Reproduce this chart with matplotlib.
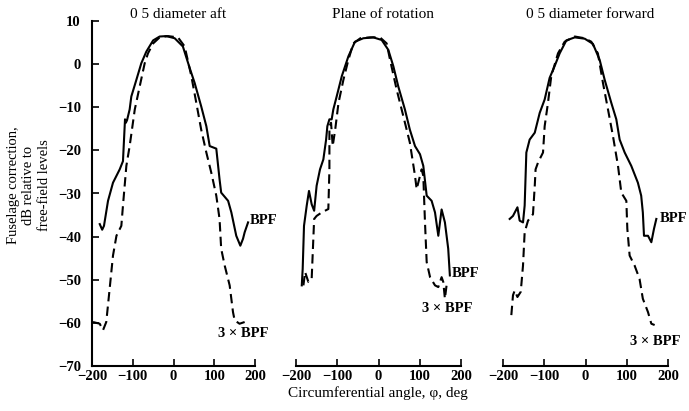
import matplotlib
matplotlib.use('Agg')
import matplotlib.pyplot as plt

plt.rcParams['font.family'] = ['Liberation Serif', 'DejaVu Serif']

# ---------------- data ----------------
titles = ["0 5 diameter aft", "Plane of rotation", "0 5 diameter forward"]
x_ticks = [-200, -100, 0, 100, 200]
y_ticks = [10, 0, -10, -20, -30, -40, -50, -60, -70]

aft_bpf_x = [-181, -175, -170.6, -160.7, -148.5, -132, -124, -119, -117, -114, -107.6, -103.5, -91, -79, -66.7,
             -50, -34, -17.6, 2.9, 23, 39.7, 52, 68, 80.6, 88.8, 105, 113, 117, 134, 142, 154, 164, 170.6, 174.6, 183]
aft_bpf_y = [-37.1, -38.4, -37.5, -31.7, -27.5, -24.4, -22.5, -12.8, -13.6, -13.0, -10.5, -7.5, -3.6, 0.2, 2.9,
             5.5, 6.4, 6.5, 6.0, 4.1, -0.9, -4.4, -9.8, -14.4, -19, -19.6, -26.7, -29.8, -31.7, -34.4, -39.8, -42.1,
             -40.5, -39, -36.7]

aft_3bpf_x = [-197.5, -181, -173, -165, -156.6, -148.5, -140, -128, -124, -115.7, -107.6, -95, -83, -70.7, -62.6,
              -50, -34, -13.5, 11, 27.4, 43.8, 56, 68, 80.6, 92.8, 105, 113, 117, 125.6, 137.8, 146, 150, 162, 174.6]
aft_3bpf_y = [-59.8, -60.2, -61.7, -59.8, -52, -44.4, -39.8, -37.5, -32.8, -23.6, -19, -10.5, -5.2, 0.2, 2.5,
              4.8, 6.2, 6.5, 6.2, 4.1, -2.8, -9, -15.2, -20.5, -25.2, -30.5, -35.9, -42.8, -46.7, -51.3, -57.5,
              -59.4, -60.2, -59.8]

rot_bpf_x = [-186, -183.8, -180.6, -174, -168.5, -162, -156, -150, -141.8, -133.7, -127, -124, -119, -113.5,
             -109.5, -101.4, -89, -73, -57, -36.8, -12.5, 7.7, 23.8, 36, 48, 64, 76, 88.5, 100.6, 108.6, 116.8,
             128.8, 137, 145, 153, 161, 169, 173]
rot_bpf_y = [-51.3, -47.5, -37.5, -32.8, -29.4, -32.5, -34, -28.2, -24.4, -22.1, -17.5, -14.4, -12.8, -12.8,
             -10.5, -7.5, -2.8, 1.8, 5.2, 6.0, 6.2, 5.6, 3.3, -0.5, -5.2, -10.5, -15.2, -19, -20.9, -23.6, -30.5,
             -31.7, -34.4, -39.8, -33.7, -36.7, -42.8, -49]

rot_3bpf_x = [-182, -178, -170, -162, -156, -150, -137.8, -121.6, -119, -119, -115, -111, -105, -97, -85, -73,
              -61, -44, -20.6, 3.6, 19.8, 28, 44, 60, 76, 88.5, 92.5, 100.6, 104.6, 108.6, 112.7, 116.8, 125, 137,
              145, 153, 157, 161, 165]
rot_3bpf_y = [-51.3, -48.2, -50.5, -49.8, -35.9, -35.2, -34.4, -33.6, -24.4, -14.4, -13.6, -19, -15.2, -9, -3.6,
              1, 4.8, 6, 6.2, 6.2, 4.8, 1, -5.9, -12, -18.2, -25.9, -29, -25.9, -24.4, -25.9, -36.7, -45.9, -49.4,
              -51.3, -51.7, -49.4, -50.5, -54.4, -51.3]

fwd_bpf_x = [-183.8, -175.8, -165, -159.6, -151.5, -147.5, -143.4, -135.4, -123, -111, -99, -87, -75, -62.6,
             -46.5, -26, -2, 18, 34.3, 46.4, 62.6, 74.7, 82.8, 95, 111, 127, 135, 139, 141.8, 151.5, 159.6, 166,
             171.7]
fwd_bpf_y = [-35.9, -35.2, -33.2, -36.3, -36.7, -32.8, -20.5, -17.5, -15.9, -11.3, -8.2, -3.2, -0.5, 2.5,
             5.5, 6.2, 5.9, 4.7, 1, -3.6, -9, -12.8, -17.5, -20.5, -23.6, -27.5, -30.5, -34.4, -39.8, -39.8, -41.3,
             -38.2, -35.9]

fwd_3bpf_x = [-179.8, -175.8, -171.7, -165, -157, -151.5, -147.5, -139.4, -127.3, -123, -121, -115, -103, -99,
              -91, -83, -66.7, -50.5, -26, -2, 14, 30, 42.4, 54.5, 66.6, 78.8, 86.8, 99, 101.4, 107, 119, 131, 139,
              151.5, 159.6, 167.6]
fwd_3bpf_y = [-58.2, -53.6, -52.5, -54, -52.8, -46.7, -39, -36.3, -34.8, -28.2, -24.4, -22.8, -20.5, -14.4,
              -9, -2.8, 2.5, 5.2, 6.4, 6, 5.2, 2.5, -4.4, -10.5, -16.7, -23.6, -29.8, -31.7, -38.2, -44.4, -46.7,
              -49.8, -54.4, -57.5, -60.2, -60.5]

bpf_label = "BPF"
bpf3_label = "3 \u00d7 BPF"
bpf_label_pos = [(187, -36.3), (178, -48.6), (181, -35.9)]
bpf3_label_pos = [(109, -62.5), (105, -56.7), (107, -64.4)]

series = [
    (aft_bpf_x, aft_bpf_y, aft_3bpf_x, aft_3bpf_y),
    (rot_bpf_x, rot_bpf_y, rot_3bpf_x, rot_3bpf_y),
    (fwd_bpf_x, fwd_bpf_y, fwd_3bpf_x, fwd_3bpf_y),
]

# ---------------- layout ----------------
W, H = 689, 411
fig = plt.figure(figsize=(W / 100, H / 100), dpi=100)
fig.patch.set_facecolor('white')

panel_px = [(92, 255), (296, 461), (503, 668)]
ytop, ybot = 21, 366

for i, ((x0, x1), (bx, by, dx, dy)) in enumerate(zip(panel_px, series)):
    ax = fig.add_axes([x0 / W, 1 - ybot / H, (x1 - x0) / W, (ybot - ytop) / H])
    ax.set_xlim(-200, 200)
    ax.set_ylim(-70, 10)
    ax.plot(bx, by, color='black', lw=1.5, clip_on=False)
    ax.plot(dx, dy, color='black', lw=1.5, linestyle=(0, (4.5, 2.5)), clip_on=False)
    ax.set_xticks(x_ticks)
    ax.tick_params(axis='x', direction='in', length=5, width=1.2, pad=3, labelsize=10.5)
    for lbl in ax.get_xticklabels():
        lbl.set_fontweight('bold')
    for s in ['top', 'right']:
        ax.spines[s].set_visible(False)
    ax.spines['bottom'].set_linewidth(1.5)
    if i == 0:
        ax.set_yticks(y_ticks)
        ax.tick_params(axis='y', direction='in', length=5, width=1.2, pad=8, labelsize=10.5)
        for lbl in ax.get_yticklabels():
            lbl.set_fontweight('bold')
        ax.spines['left'].set_linewidth(1.5)
    else:
        ax.spines['left'].set_visible(False)
        ax.set_yticks([])
    ax.set_facecolor('none')
    ax.text(bpf_label_pos[i][0], bpf_label_pos[i][1], bpf_label, ha='left', va='center',
            fontsize=10.5, fontweight='bold', clip_on=False)
    ax.text(bpf3_label_pos[i][0], bpf3_label_pos[i][1], bpf3_label, ha='left', va='center',
            fontsize=10.5, fontweight='bold', clip_on=False)

title_px = [(178, 15), (383, 15), (590, 15)]
for t, (tx, ty) in zip(titles, title_px):
    fig.text(tx / W, 1 - ty / H, t, ha='center', va='center', fontsize=11)

fig.text(378 / W, 1 - 393 / H, "Circumferential angle, \u03c6, deg", ha='center', va='center', fontsize=11)
fig.text(29 / W, 1 - 185 / H, "Fuselage correction,\ndB relative to\nfree-field levels",
         rotation=90, ha='center', va='center', multialignment='center', fontsize=10.5, linespacing=1.2)

fig.savefig('out.png', dpi=100, facecolor='white')
